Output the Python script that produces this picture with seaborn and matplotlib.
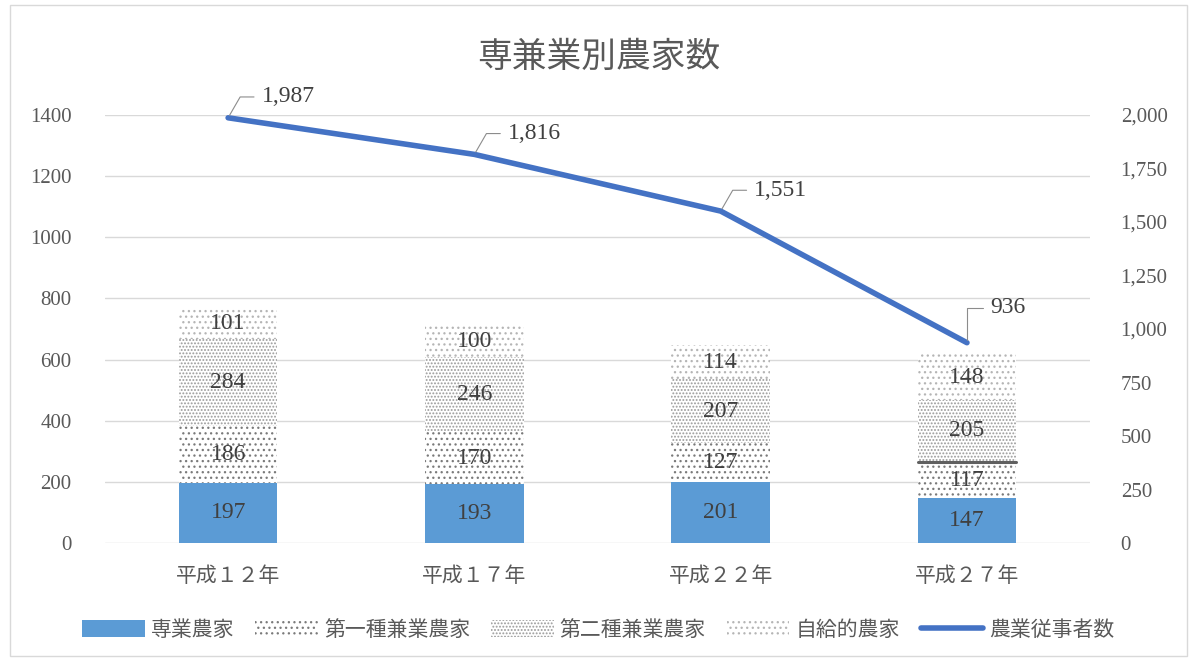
import matplotlib
matplotlib.use("Agg")
import matplotlib.pyplot as plt
import seaborn as sns
import pandas as pd
import numpy as np
from matplotlib.patches import Patch
from matplotlib.lines import Line2D

# --- data ---
years = ["平成１２年", "平成１７年", "平成２２年", "平成２７年"]
full_time = [197, 193, 201, 147]        # 専業農家
part_time_1 = [186, 170, 127, 117]      # 第一種兼業農家
part_time_2 = [284, 246, 207, 205]      # 第二種兼業農家
self_supply = [101, 100, 114, 148]      # 自給的農家
workers = [1987, 1816, 1551, 936]       # 農業従事者数

sns.set_theme(style="white")
plt.rcParams["font.family"] = ["Noto Sans CJK JP", "DejaVu Sans"]
plt.rcParams["hatch.linewidth"] = 0.9

TXT = "#595959"
SERIF = ["Liberation Serif", "Noto Sans CJK JP"]
BLUE_BAR = "#5B9BD5"
BLUE_LINE = "#4472C4"

# hatch styles per segment
H_SELF = ("...", "#b5b5b5")
H_P2 = (".....", "#9a9a9a")
H_P1 = ("...", "#7a7a7a")

fig = plt.figure(figsize=(11.97, 6.61), dpi=100)
ax = fig.add_axes([0.0877, 0.1785, 0.823, 0.6475])

df = pd.DataFrame({
    "year": years,
    "full": full_time,
    "p1": part_time_1,
    "p2": part_time_2,
    "self": self_supply,
})
df["c1"] = df["full"]
df["c2"] = df["c1"] + df["p1"]
df["c3"] = df["c2"] + df["p2"]
df["c4"] = df["c3"] + df["self"]

# stacked bars drawn as cumulative layers, tallest first
layers = [
    ("c4", "white", H_SELF[0], H_SELF[1]),
    ("c3", "white", H_P2[0], H_P2[1]),
    ("c2", "white", H_P1[0], H_P1[1]),
    ("c1", BLUE_BAR, None, BLUE_BAR),
]
for col, fc, hatch, ec in layers:
    sns.barplot(data=df, x="year", y=col, ax=ax, color=fc, width=0.4,
                saturation=1, edgecolor=ec, linewidth=0, hatch=hatch,
                order=years)
for p in ax.patches:
    p.set_linewidth(0)

# separator on the last bar between 第一種 and 第二種
ax.plot([3 - 0.2, 3 + 0.2], [df["c2"][3], df["c2"][3]], color="#606060", lw=2.2, zorder=3)

ax.set_xlim(-0.5, 3.5)
ax.set_ylim(0, 1400)
ax.set_yticks(range(0, 1401, 200))
ax.set_xlabel("")
ax.set_ylabel("")
ax.grid(axis="y", color="#d9d9d9", lw=1)
ax.set_axisbelow(True)
for s in ax.spines.values():
    s.set_visible(False)
ax.tick_params(axis="both", length=0, colors=TXT)
ax.tick_params(axis="x", pad=16)
ax.tick_params(axis="y", pad=24)
for t in ax.get_yticklabels():
    t.set_fontfamily(SERIF)
    t.set_fontsize(15)
for t in ax.get_xticklabels():
    t.set_fontfamily(["Noto Sans CJK JP"])
    t.set_fontsize(15)

# segment labels
for i in range(len(years)):
    bottoms = [0, df["c1"][i], df["c2"][i], df["c3"][i]]
    vals = [full_time[i], part_time_1[i], part_time_2[i], self_supply[i]]
    for b, v in zip(bottoms, vals):
        ax.text(i, b + v / 2, f"{v}", ha="center", va="center",
                fontsize=17, color="#404040", family=SERIF, zorder=5)

# line on secondary axis
ax2 = ax.twinx()
line_df = pd.DataFrame({"x": np.arange(len(years)), "w": workers})
sns.lineplot(data=line_df, x="x", y="w", ax=ax2, color=BLUE_LINE, lw=4,
             solid_capstyle="round")
ax2.set_ylim(0, 2000)
ax2.set_yticks(range(0, 2001, 250))
ax2.set_yticklabels([f"{v:,}" for v in range(0, 2001, 250)])
ax2.set_xlim(-0.5, 3.5)
ax2.set_ylabel("")
for s in ax2.spines.values():
    s.set_visible(False)
ax2.tick_params(axis="y", length=0, colors=TXT, pad=22)
for t in ax2.get_yticklabels():
    t.set_fontfamily(SERIF)
    t.set_fontsize(15)
ax2.grid(False)

# value callouts with leader lines
offsets = [(24, 15), (24, 15), (24, 15), (17, 25)]
angles = [60, 60, 60, 90]
for i, w in enumerate(workers):
    ax2.annotate(f"{w:,}", xy=(i, w), xytext=offsets[i], textcoords="offset points",
                 ha="left", va="center", fontsize=17, color="#404040", family=SERIF,
                 arrowprops=dict(arrowstyle="-", color="#8c8c8c", lw=0.8,
                                 shrinkA=3, shrinkB=2,
                                 connectionstyle=f"angle,angleA=0,angleB={angles[i]},rad=0"))

fig.suptitle("専兼業別農家数", y=0.94, fontsize=25, color=TXT)

# legend
leg_handles = [
    Patch(facecolor=BLUE_BAR, edgecolor=BLUE_BAR, lw=0),
    Patch(facecolor="white", edgecolor=H_P1[1], hatch=H_P1[0], lw=0),
    Patch(facecolor="white", edgecolor=H_P2[1], hatch=H_P2[0], lw=0),
    Patch(facecolor="white", edgecolor=H_SELF[1], hatch=H_SELF[0], lw=0),
    Line2D([0], [0], color=BLUE_LINE, lw=4),
]
leg_labels = ["専業農家", "第一種兼業農家", "第二種兼業農家", "自給的農家", "農業従事者数"]
fig.legend(leg_handles, leg_labels, loc="center", bbox_to_anchor=(0.5, 0.047),
           ncol=5, frameon=False, fontsize=15, labelcolor=TXT,
           handlelength=3.0, handleheight=0.9, handletextpad=0.3, columnspacing=1.0)

# outer chart border
fig.patches.append(plt.Rectangle((0.008, 0.008), 0.984, 0.984, transform=fig.transFigure,
                                 fill=False, edgecolor="#d9d9d9", lw=1))

fig.savefig("out.png", dpi=100)
